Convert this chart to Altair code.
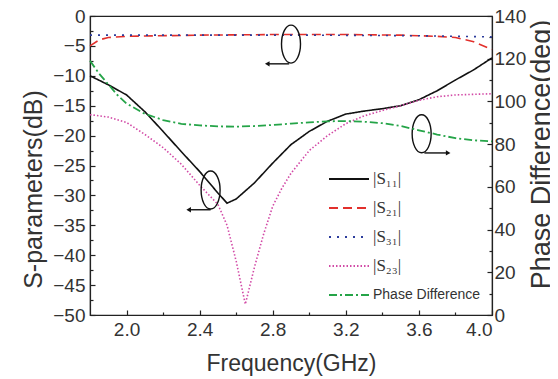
import altair as alt
import pandas as pd

# ---- data ----
freq_s11 = [1.8, 1.9, 2.0, 2.1, 2.2, 2.3, 2.4, 2.5, 2.55, 2.6, 2.7, 2.8, 2.9, 3.0, 3.1, 3.2, 3.3, 3.4, 3.5, 3.6, 3.7, 3.8, 3.9, 4.0]
s11 = [-10.0, -11.5, -13.2, -16.0, -19.3, -22.7, -26.0, -29.6, -31.3, -30.6, -27.9, -24.6, -21.5, -19.3, -17.6, -16.4, -15.9, -15.5, -15.0, -14.0, -12.5, -10.7, -9.0, -7.0]

freq_s21 = [1.8, 1.85, 1.9, 2.0, 2.4, 2.8, 3.2, 3.5, 3.7, 3.8, 3.9, 4.0]
s21 = [-5.0, -4.0, -3.6, -3.4, -3.2, -3.1, -3.1, -3.2, -3.4, -3.6, -4.3, -5.6]

freq_s31 = [1.8, 2.4, 3.0, 3.6, 4.0]
s31 = [-3.2, -3.2, -3.2, -3.3, -3.5]

freq_s23 = [1.8, 1.9, 2.0, 2.1, 2.2, 2.3, 2.4, 2.5, 2.55, 2.6, 2.65, 2.7, 2.75, 2.8, 2.85, 2.9, 3.0, 3.1, 3.2, 3.3, 3.4, 3.5, 3.6, 3.7, 3.8, 3.9, 4.0]
s23 = [-16.5, -16.9, -17.8, -19.8, -22.0, -24.8, -28.3, -31.5, -35.0, -41.0, -48.2, -42.0, -36.5, -31.8, -28.8, -26.3, -22.5, -20.0, -18.0, -16.7, -15.8, -15.0, -14.1, -13.5, -13.2, -13.1, -13.0]

freq_ph = [1.8, 1.85, 1.9, 1.95, 2.0, 2.1, 2.2, 2.3, 2.4, 2.5, 2.6, 2.7, 2.8, 2.9, 3.0, 3.1, 3.2, 3.3, 3.4, 3.5, 3.6, 3.7, 3.8, 3.9, 4.0]
phase = [119.0, 113.0, 108.0, 103.0, 99.0, 94.2, 91.3, 89.5, 88.8, 88.3, 88.2, 88.5, 89.0, 89.6, 90.2, 90.7, 90.8, 90.5, 89.8, 88.5, 86.5, 84.5, 82.8, 81.8, 81.3]

series_names = ["|S\u2081\u2081|", "|S\u2082\u2081|", "|S\u2083\u2081|", "|S\u2082\u2083|", "Phase Difference"]
series_colors = ["#111111", "#e2302c", "#2c3c9c", "#d24aa6", "#25a448"]
series_dashes = [[1, 0], [9, 5], [2, 6], [1.5, 2], [8, 3, 2, 3]]

x_major = [2.0, 2.4, 2.8, 3.2, 3.6, 4.0]
x_minor = [2.2, 2.6, 3.0, 3.4, 3.8]
y_major = [0, -5, -10, -15, -20, -25, -30, -35, -40, -45, -50]
y_minor = [-2.5, -7.5, -12.5, -17.5, -22.5, -27.5, -32.5, -37.5, -42.5, -47.5]
p_major = [0, 20, 40, 60, 80, 100, 120, 140]
p_minor = [10, 30, 50, 70, 90, 110, 130]

# annotation ellipses (center freq, center dB) and arrows (freq from, freq to, dB)
ell_f = [2.90, 2.46, 3.615]
ell_v = [-4.7, -29.1, -19.7]
arr_f1 = [2.89, 2.46, 3.63]
arr_f2 = [2.77, 2.34, 3.76]
arr_v = [-8.0, -32.4, -22.9]
arr_dir = ["left", "left", "right"]

# ---- tables ----
rows = []
for name, fs, vs in [(series_names[0], freq_s11, s11), (series_names[1], freq_s21, s21),
                     (series_names[2], freq_s31, s31), (series_names[3], freq_s23, s23)]:
    for f, v in zip(fs, vs):
        rows.append({"f": f, "v": v, "series": name})
sdf = pd.DataFrame(rows)
pdf = pd.DataFrame({"f": freq_ph, "v": phase, "series": series_names[4]})
ell_df = pd.DataFrame({"f": ell_f, "v": ell_v})
arr_df = pd.DataFrame({"f1": arr_f1, "f2": arr_f2, "v": arr_v, "dir": arr_dir})

FONT = "Liberation Sans"
TXT = "#333333"
xscale = alt.Scale(domain=[1.8, 4.0], nice=False, zero=False)
yscale = alt.Scale(domain=[-50, 0], nice=False, zero=False)
pscale = alt.Scale(domain=[0, 140], nice=False, zero=False)

color = alt.Color("series:N", scale=alt.Scale(domain=series_names, range=series_colors),
                  legend=alt.Legend(orient="none", legendX=234, legendY=138, title=None,
                                    symbolType="stroke", symbolSize=1600, symbolStrokeWidth=1.8,
                                    labelFont={"expr": "datum.value == 'Phase Difference' ? 'Liberation Sans' : 'Liberation Serif'"},
                                    labelFontSize={"expr": "datum.value == 'Phase Difference' ? 14 : 17"},
                                    labelColor=TXT, rowPadding=-1, labelOffset=3, padding=4))
dash = alt.StrokeDash("series:N", scale=alt.Scale(domain=series_names, range=series_dashes), legend=None)

s_lines = alt.Chart(sdf).mark_line(strokeWidth=1.6).encode(
    x=alt.X("f:Q", scale=xscale, axis=alt.Axis(orient="bottom", values=x_major, format=".1f", title="Frequency(GHz)",
                                               titleFontSize=23, tickSize={"expr": "-5"}, labelPadding=10,
                                               titlePadding=13, grid=False)),
    y=alt.Y("v:Q", scale=yscale, axis=alt.Axis(orient="left", values=y_major, title="S-parameters(dB)",
                                               titleFontSize=25, titleY=173,
                                               tickSize={"expr": "-5"}, labelPadding=10, titlePadding=6, grid=False)),
    color=color, strokeDash=dash, order=alt.Order("f:Q"))

minor_left = alt.Chart(sdf).mark_line(opacity=0).encode(
    x=alt.X("f:Q", scale=xscale, axis=alt.Axis(orient="bottom", values=x_minor, labels=False, title=None, domain=False,
                                               tickSize={"expr": "-3"}, grid=False)),
    y=alt.Y("v:Q", scale=yscale, axis=alt.Axis(orient="left", values=y_minor, labels=False, title=None, domain=False,
                                               tickSize={"expr": "-3"}, grid=False)))

ellipse_path = "M0,-1 C0.276,-1 0.5,-0.552 0.5,0 C0.5,0.552 0.276,1 0,1 C-0.276,1 -0.5,0.552 -0.5,0 C-0.5,-0.552 -0.276,-1 0,-1 Z"
ellipses = alt.Chart(ell_df).mark_point(shape=ellipse_path, filled=False, color="#111111",
                                        strokeWidth=1.4, size=1444, opacity=1).encode(
    x=alt.X("f:Q", scale=xscale, axis=None), y=alt.Y("v:Q", scale=yscale, axis=None))
arrows = alt.Chart(arr_df).mark_rule(color="#111111", strokeWidth=1.4).encode(
    x=alt.X("f1:Q", scale=xscale, axis=None), x2="f2:Q", y=alt.Y("v:Q", scale=yscale, axis=None))
heads = alt.Chart(arr_df).mark_point(filled=True, color="#111111", size=28, opacity=1).encode(
    x=alt.X("f2:Q", scale=xscale, axis=None), y=alt.Y("v:Q", scale=yscale, axis=None),
    shape=alt.Shape("dir:N", scale=alt.Scale(domain=["left", "right"], range=["triangle-left", "triangle-right"]), legend=None))

left = alt.layer(minor_left, s_lines, ellipses, arrows, heads).resolve_axis(x="independent", y="independent")

p_line = alt.Chart(pdf).mark_line(strokeWidth=1.8).encode(
    x=alt.X("f:Q", scale=xscale, axis=None),
    y=alt.Y("v:Q", scale=pscale, axis=alt.Axis(orient="right", values=p_major, title="Phase Difference(deg)",
                                               titleAngle=270, titleFontSize=27, titleY=138, tickSize={"expr": "-5"},
                                               labelPadding=7, titlePadding=30, grid=False)),
    color=color, strokeDash=dash, order=alt.Order("f:Q"))
minor_right = alt.Chart(pdf).mark_line(opacity=0).encode(
    x=alt.X("f:Q", scale=xscale, axis=None),
    y=alt.Y("v:Q", scale=pscale, axis=alt.Axis(orient="right", values=p_minor, labels=False, title=None,
                                               domain=False, tickSize={"expr": "-3"}, grid=False)))
right = alt.layer(minor_right, p_line).resolve_axis(y="independent")

chart = alt.layer(left, right).resolve_scale(y="independent", color="shared", strokeDash="shared").properties(
    width=402, height=299, autosize=alt.AutoSizeParams(type="none"),
    padding={"left": 82, "top": 8, "right": 58, "bottom": 64},
).configure_view(stroke="#222222", strokeWidth=1.2).configure_axis(
    labelFont=FONT, titleFont=FONT, labelFontSize=19, titleFontSize=24, labelColor=TXT, titleColor=TXT,
    titleFontWeight="normal", domainColor="#222222", tickColor="#222222", domainWidth=1.2, tickWidth=1.2
)

chart.save("out.html", embed_options={"renderer": "svg", "actions": False})
